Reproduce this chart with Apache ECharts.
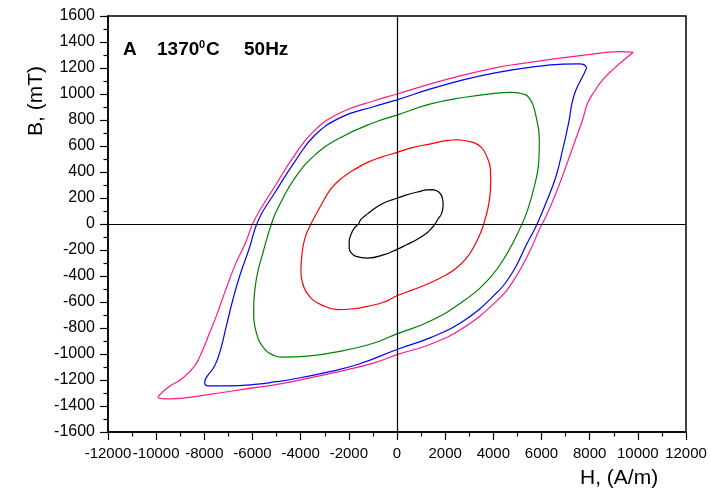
<!DOCTYPE html>
<html>
<head>
<meta charset="utf-8">
<script src="https://cdn.jsdelivr.net/npm/echarts@6/dist/echarts.min.js"></script>
<style>
html,body{margin:0;padding:0;background:#fff;}
#chart{width:711px;height:493px;}
</style>
</head>
<body>
<div id="chart"></div>
<script>
// ---- data (H in A/m, B in mT), each loop traced as a closed path ----
var xTicks = [-12000, -10000, -8000, -6000, -4000, -2000, 0, 2000, 4000, 6000, 8000, 10000, 12000];
var yTicks = [-1600, -1400, -1200, -1000, -800, -600, -400, -200, 0, 200, 400, 600, 800, 1000, 1200, 1400, 1600];

var magentaH = [9810, 9230, 7848, 6463, 5081, 4127, 2745, 1362, 0, -946, -2331, -3435, -4265, -5095, -5911, -6290, -6741, -7155, -7500, -7778, -8054, -8400, -8952, -9507, -9922,
  -9367, -7708, -6326, -5081, -3713, -2331, -946, 0, 1362, 2745, 4127, 4819, 5510, 5911, 6189, 6604, 7018, 7363, 7707, 7915, 8192, 8537, 8952, 9507, 9810];
var magentaB = [1321, 1326, 1301, 1268, 1232, 1203, 1145, 1076, 1000, 948, 858, 718, 526, 283, 35, -144, -324, -528, -707, -835, -963, -1091, -1193, -1257, -1334,
  -1345, -1308, -1270, -1237, -1188, -1132, -1068, -1005, -927, -800, -595, -441, -211, -42, 60, 239, 444, 623, 802, 930, 1019, 1109, 1186, 1275, 1321];

var blueH = [7873, 7778, 7570, 6893, 5510, 4127, 2745, 1362, 0, -946, -2331, -3435, -4265, -5060, -5745, -6150, -6533, -6811, -7085, -7321, -7570, -7915, -7985,
  -7848, -7018, -5787, -5081, -4405, -3020, -1639, 0, 1362, 2745, 4127, 4819, 5372, 5774, 6189, 6604, 6878, 7127, 7267, 7433, 7707, 7873];
var blueB = [1199, 1224, 1232, 1230, 1205, 1165, 1109, 1037, 955, 904, 820, 679, 474, 244, 35, -196, -400, -579, -784, -963, -1091, -1180, -1219,
  -1245, -1245, -1232, -1215, -1196, -1145, -1081, -965, -876, -748, -531, -365, -160, -17, 163, 367, 572, 777, 930, 1032, 1134, 1199];

var greenH = [4750, 4127, 2745, 1362, 0, -946, -2331, -3435, -4265, -4820, -5151, -5566, -5842, -5952, -5842, -5496, -5081, -4820, -3713, -2331, -946,
  0, 1362, 2745, 3850, 4542, 5151, 5427, 5703, 5883, 5911, 5774, 5496, 5081, 4750];
var greenB = [1012, 1007, 973, 922, 838, 781, 666, 526, 347, 167, 35, -221, -426, -656, -835, -963, -1014, -1024, -1017, -978, -915,
  -845, -748, -595, -416, -236, -17, 111, 290, 470, 648, 827, 968, 1007, 1012];

var redH = [2537, 2053, 1362, 672, 0, -672, -1224, -1776, -2331, -2746, -3160, -3575, -3824, -3948, -3990, -3920, -3783, -3505, -3160, -2468, -1915, -1224, -532,
  0, 672, 1362, 2053, 2468, 2883, 3160, 3436, 3601, 3824, 3891, 3878, 3712, 3505, 3160, 2537];
var redB = [648, 641, 615, 589, 551, 513, 474, 418, 347, 270, 142, 0, -109, -236, -365, -454, -518, -582, -620, -659, -654, -633, -600,
  -552, -505, -454, -390, -339, -262, -186, -83, 0, 167, 321, 424, 526, 589, 628, 648];

var blackH = [1500, 1224, 809, 394, 0, -532, -946, -1224, -1500, -1600, -1776, -1915, -1985, -1985, -1888, -1708, -1224, -532,
  0, 394, 809, 1224, 1500, 1580, 1708, 1846, 1915, 1887, 1750, 1500];
var blackB = [265, 262, 244, 224, 198, 163, 117, 78, 35, 0, -32, -83, -134, -186, -224, -249, -262, -236,
  -195, -160, -121, -71, -19, 0, 40, 78, 142, 198, 244, 265];

function zip(h, b) { var out = []; for (var i = 0; i < h.length; i++) out.push([h[i], b[i]]); return out; }

var loops = [
  { name: 'magenta', h: magentaH, b: magentaB, color: '#FF1A8C' },
  { name: 'blue', h: blueH, b: blueB, color: '#0000FF' },
  { name: 'green', h: greenH, b: greenB, color: '#008000' },
  { name: 'red', h: redH, b: redB, color: '#FF0000' },
  { name: 'black', h: blackH, b: blackB, color: '#000000' }
];

var FONT = 'Liberation Sans, Arial, sans-serif';
var series = loops.map(function (l) {
  return {
    name: l.name, type: 'line', data: zip(l.h, l.b), showSymbol: false, symbol: 'none',
    smooth: 0.45, lineStyle: { color: l.color, width: 1.2 }, z: 3, animation: false, silent: true
  };
});
series[0].markLine = {
  silent: true, symbol: ['none', 'none'], animation: false, label: { show: false },
  lineStyle: { color: '#000', type: 'solid', width: 1.2 },
  data: [{ xAxis: 0 }, { yAxis: 0 }]
};

function plain(v) { return String(v); }

var chart = echarts.init(document.getElementById('chart'), null, { renderer: 'canvas' });
chart.setOption({
  backgroundColor: '#fff',
  animation: false,
  grid: { left: 108, right: 25, top: 16, bottom: 61, show: true, borderColor: '#000', borderWidth: 1.5, backgroundColor: 'transparent' },
  xAxis: {
    type: 'value', min: xTicks[0], max: xTicks[xTicks.length - 1], interval: xTicks[1] - xTicks[0],
    axisLine: { onZero: false, lineStyle: { color: '#000', width: 1.5 } },
    axisTick: { show: true, length: 8, lineStyle: { color: '#000', width: 1.2 } },
    minorTick: { show: true, splitNumber: 2, length: 4.5, lineStyle: { color: '#000', width: 1.2 } },
    splitLine: { show: false },
    axisLabel: { color: '#000', fontSize: 15, fontFamily: FONT, margin: 14, formatter: plain, showMinLabel: true, showMaxLabel: true, hideOverlap: false }
  },
  yAxis: {
    type: 'value', min: yTicks[0], max: yTicks[yTicks.length - 1], interval: yTicks[1] - yTicks[0],
    axisLine: { onZero: false, lineStyle: { color: '#000', width: 1.5 } },
    axisTick: { show: true, length: 8, lineStyle: { color: '#000', width: 1.2 } },
    minorTick: { show: true, splitNumber: 2, length: 4.5, lineStyle: { color: '#000', width: 1.2 } },
    splitLine: { show: false },
    axisLabel: { color: '#000', fontSize: 16, fontFamily: FONT, margin: 13, formatter: plain, showMinLabel: true, showMaxLabel: true, hideOverlap: false }
  },
  graphic: [
    { type: 'text', left: 580, top: 468, style: { text: 'H, (A/m)', font: '21px ' + FONT, fill: '#000' } },
    { type: 'text', x: 36, y: 101, rotation: Math.PI / 2, style: { text: 'B, (mT)', font: '21px ' + FONT, fill: '#000', align: 'center', verticalAlign: 'middle' } },
    { type: 'text', x: 123, y: 50, style: { text: 'A', font: 'bold 19px ' + FONT, fill: '#000', verticalAlign: 'middle' } },
    { type: 'text', x: 157, y: 50, style: { text: '1370', font: 'bold 19px ' + FONT, fill: '#000', verticalAlign: 'middle' } },
    { type: 'text', x: 199, y: 45, style: { text: '0', font: 'bold 11px ' + FONT, fill: '#000', verticalAlign: 'middle' } },
    { type: 'text', x: 206, y: 50, style: { text: 'C', font: 'bold 19px ' + FONT, fill: '#000', verticalAlign: 'middle' } },
    { type: 'text', x: 244, y: 50, style: { text: '50Hz', font: 'bold 19px ' + FONT, fill: '#000', verticalAlign: 'middle' } }
  ],
  series: series
});
</script>
</body>
</html>
